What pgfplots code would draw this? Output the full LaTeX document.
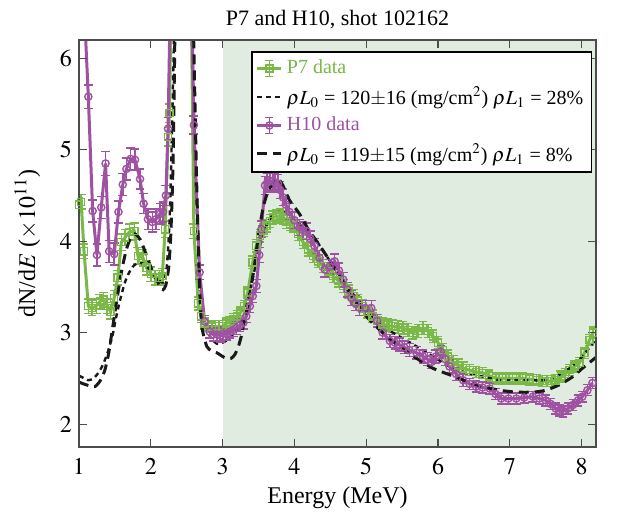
\documentclass[border=0pt]{standalone}
\usepackage{mathptmx}
\usepackage[no-math]{fontspec}
\setmainfont{Liberation Serif}
\usepackage{pgfplots}
\pgfplotsset{compat=1.18}
\usepackage{pgfplotstable}
\definecolor{pgreen}{RGB}{122,184,72}
\definecolor{hpurple}{RGB}{160,82,162}
\definecolor{shadec}{RGB}{225,236,225}

\pgfplotstableread{
x y e
1.00 4.40 0.08
1.03 4.43 0.08
1.07 3.89 0.08
1.13 3.29 0.08
1.18 3.27 0.08
1.24 3.29 0.08
1.29 3.34 0.08
1.34 3.36 0.08
1.40 3.29 0.08
1.44 3.23 0.08
1.49 3.38 0.08
1.54 3.60 0.08
1.59 3.99 0.09
1.64 4.04 0.09
1.70 4.10 0.09
1.77 4.11 0.09
1.82 3.84 0.09
1.89 3.82 0.09
1.94 3.71 0.08
2.00 3.64 0.08
2.06 3.60 0.08
2.12 3.60 0.08
2.16 3.62 0.08
2.20 4.13 0.09
2.24 5.14 0.10
2.26 5.40 0.10
2.30 7.50 0.10
2.55 7.50 0.10
2.60 4.11 0.08
2.66 3.32 0.07
2.70 3.18 0.07
2.75 3.10 0.06
2.80 3.07 0.06
2.85 3.06 0.06
2.90 3.07 0.06
2.95 3.07 0.06
3.00 3.07 0.06
3.05 3.10 0.06
3.10 3.12 0.06
3.15 3.15 0.06
3.20 3.18 0.06
3.25 3.22 0.06
3.30 3.29 0.06
3.35 3.44 0.06
3.42 3.77 0.07
3.47 3.95 0.07
3.52 4.06 0.07
3.57 4.12 0.07
3.61 4.17 0.07
3.66 4.22 0.07
3.70 4.26 0.07
3.75 4.27 0.07
3.80 4.28 0.07
3.85 4.26 0.07
3.89 4.21 0.07
3.94 4.19 0.07
3.98 4.17 0.07
4.05 4.08 0.07
4.12 3.99 0.07
4.19 3.91 0.07
4.26 3.84 0.07
4.33 3.78 0.07
4.40 3.73 0.07
4.47 3.67 0.07
4.54 3.62 0.07
4.61 3.57 0.07
4.68 3.51 0.07
4.75 3.45 0.07
4.82 3.40 0.07
4.88 3.35 0.07
4.95 3.29 0.07
5.02 3.23 0.07
5.09 3.18 0.07
5.16 3.13 0.07
5.23 3.09 0.07
5.30 3.08 0.07
5.37 3.07 0.07
5.44 3.06 0.07
5.51 3.05 0.07
5.58 3.03 0.07
5.65 3.00 0.07
5.72 3.02 0.07
5.79 3.05 0.07
5.86 3.02 0.07
5.93 2.96 0.07
6.00 2.89 0.07
6.07 2.81 0.07
6.14 2.74 0.07
6.21 2.68 0.07
6.28 2.64 0.07
6.35 2.61 0.07
6.44 2.59 0.06
6.53 2.57 0.06
6.62 2.56 0.06
6.71 2.53 0.06
6.81 2.50 0.06
6.90 2.50 0.06
6.99 2.50 0.06
7.09 2.50 0.06
7.18 2.50 0.06
7.27 2.49 0.06
7.37 2.48 0.06
7.45 2.47 0.06
7.52 2.47 0.06
7.58 2.47 0.06
7.64 2.48 0.06
7.71 2.52 0.06
7.77 2.55 0.06
7.83 2.59 0.06
7.90 2.63 0.06
7.97 2.67 0.06
8.04 2.78 0.06
8.11 2.92 0.06
8.16 3.00 0.06
}\ptseven

\pgfplotstableread{
x y e
1.02 7.50 0.12
1.07 6.60 0.12
1.13 5.58 0.13
1.19 4.33 0.12
1.25 3.85 0.12
1.31 4.37 0.12
1.37 4.85 0.13
1.42 3.89 0.12
1.49 3.86 0.12
1.55 4.32 0.12
1.61 4.62 0.12
1.66 4.79 0.12
1.72 4.90 0.12
1.78 4.89 0.12
1.85 4.68 0.11
1.90 4.41 0.11
1.96 4.24 0.11
2.02 4.21 0.11
2.07 4.24 0.11
2.13 4.30 0.11
2.17 4.32 0.11
2.21 4.50 0.11
2.24 5.23 0.12
2.29 7.50 0.12
2.55 7.50 0.12
2.60 5.27 0.10
2.68 3.66 0.08
2.75 3.12 0.07
2.82 3.01 0.07
2.87 2.98 0.07
2.92 2.98 0.07
2.97 2.97 0.07
3.01 2.99 0.07
3.06 2.99 0.07
3.10 3.01 0.07
3.15 3.03 0.07
3.19 3.05 0.07
3.24 3.08 0.07
3.29 3.11 0.07
3.33 3.18 0.07
3.38 3.29 0.07
3.42 3.40 0.07
3.47 3.51 0.07
3.51 3.85 0.08
3.54 4.13 0.09
3.59 4.61 0.10
3.62 4.64 0.10
3.66 4.66 0.10
3.70 4.66 0.10
3.73 4.64 0.10
3.77 4.63 0.10
3.80 4.56 0.09
3.84 4.48 0.09
3.88 4.40 0.09
3.93 4.32 0.09
4.00 4.23 0.09
4.07 4.15 0.09
4.12 4.12 0.09
4.17 4.11 0.09
4.22 4.03 0.08
4.28 3.95 0.08
4.35 3.82 0.08
4.42 3.69 0.08
4.49 3.72 0.08
4.56 3.78 0.08
4.62 3.68 0.08
4.68 3.58 0.08
4.74 3.47 0.08
4.79 3.38 0.08
4.85 3.32 0.08
4.91 3.27 0.08
4.99 3.27 0.08
5.07 3.27 0.08
5.15 3.13 0.07
5.23 3.00 0.07
5.33 2.91 0.07
5.40 2.89 0.07
5.46 2.87 0.07
5.53 2.84 0.07
5.60 2.81 0.07
5.70 2.78 0.07
5.79 2.74 0.07
5.85 2.71 0.07
5.91 2.68 0.07
5.97 2.74 0.07
6.04 2.79 0.07
6.10 2.71 0.07
6.16 2.63 0.07
6.25 2.55 0.07
6.35 2.48 0.07
6.44 2.44 0.06
6.53 2.41 0.06
6.62 2.40 0.06
6.72 2.39 0.06
6.80 2.33 0.06
6.88 2.28 0.06
6.98 2.28 0.06
7.09 2.28 0.06
7.20 2.29 0.06
7.32 2.30 0.06
7.41 2.28 0.06
7.50 2.26 0.06
7.57 2.22 0.06
7.64 2.17 0.06
7.69 2.15 0.06
7.74 2.14 0.06
7.81 2.17 0.06
7.88 2.21 0.06
7.95 2.26 0.06
8.01 2.30 0.06
8.08 2.37 0.06
8.15 2.45 0.06
}\hten

\pgfplotstableread{
x y
1.00 2.53
1.05 2.51
1.13 2.48
1.20 2.50
1.27 2.56
1.34 2.66
1.41 2.81
1.47 2.98
1.52 3.18
1.58 3.38
1.64 3.55
1.70 3.66
1.76 3.73
1.85 3.77
1.96 3.71
2.08 3.60
2.17 3.55
2.22 3.70
2.26 4.20
2.29 5.05
2.33 6.50
2.36 8.00
2.54 8.00
2.57 6.50
2.62 4.80
2.68 3.60
2.75 3.12
2.83 2.95
2.92 2.88
3.00 2.89
3.10 2.94
3.20 3.03
3.30 3.20
3.38 3.45
3.45 3.70
3.52 3.95
3.60 4.15
3.68 4.27
3.78 4.32
3.88 4.31
3.98 4.25
4.07 4.19
4.20 4.10
4.31 4.00
4.54 3.73
4.77 3.47
5.00 3.25
5.23 3.07
5.46 2.96
5.70 2.85
5.93 2.74
6.16 2.63
6.39 2.56
6.62 2.52
6.86 2.48
7.09 2.48
7.32 2.48
7.46 2.48
7.64 2.52
7.83 2.61
8.01 2.74
8.20 2.93
}\fitA

\pgfplotstableread{
x y
1.00 2.46
1.03 2.45
1.10 2.43
1.22 2.41
1.30 2.48
1.36 2.59
1.41 2.76
1.45 2.96
1.50 3.22
1.55 3.47
1.60 3.70
1.66 3.91
1.71 4.02
1.76 4.08
1.80 4.07
1.85 4.02
1.90 3.93
1.96 3.80
2.02 3.68
2.08 3.58
2.13 3.50
2.17 3.47
2.21 3.52
2.25 3.72
2.28 4.10
2.31 4.87
2.34 6.50
2.37 8.00
2.56 8.00
2.59 6.50
2.64 4.60
2.68 3.50
2.71 3.07
2.78 2.85
2.85 2.80
2.92 2.78
3.00 2.74
3.05 2.72
3.12 2.72
3.17 2.76
3.22 2.85
3.26 2.96
3.30 3.12
3.35 3.29
3.40 3.52
3.45 3.77
3.50 4.07
3.56 4.35
3.62 4.52
3.68 4.61
3.75 4.68
3.78 4.68
3.84 4.61
3.93 4.45
4.07 4.30
4.20 4.12
4.31 4.00
4.54 3.73
4.77 3.44
5.00 3.18
5.23 3.00
5.46 2.85
5.70 2.72
5.93 2.61
6.16 2.54
6.39 2.47
6.62 2.41
6.86 2.37
7.09 2.35
7.32 2.35
7.50 2.37
7.69 2.43
7.88 2.52
8.01 2.61
8.20 2.73
}\fitB

\pgfplotsset{
  datalegend/.style={legend image code/.code={
    \draw[mark=none,##1] (0pt,0pt) -- (12pt,0pt);
    \draw[mark=none,##1,line width=0.6pt] (6pt,-4pt) -- (6pt,4pt) (4pt,-4pt) -- (8pt,-4pt) (4pt,4pt) -- (8pt,4pt);
    \draw[##1,line width=0.6pt] plot coordinates {(6pt,0pt)};
  }},
  linelegend/.style={legend image code/.code={
    \draw[##1] (0pt,0pt) -- (12pt,0pt);
  }},
}

\begin{document}
\begin{tikzpicture}
\begin{axis}[
  scale only axis,
  width=258.5pt, height=203.5pt,
  xmin=1, xmax=8.2, ymin=1.75, ymax=6.2,
  xtick={1,2,...,8}, ytick={2,3,4,5,6},
  tick align=inside, tick pos=both,
  major tick length=4pt,
  axis on top,
  axis line style={line width=0.6pt, black!70},
  every tick/.style={line width=0.6pt, black!70},
  ticklabel style={font=\fontsize{12}{14}\selectfont},
  xticklabel style={yshift=-2pt},
  title={P7 and H10, shot 102162},
  title style={font=\fontsize{11}{13}\selectfont, yshift=-4pt},
  xlabel={Energy (MeV)},
  ylabel={dN/d$E$ ($\times 10^{11}$)},
  label style={font=\fontsize{12}{14}\selectfont},
  xlabel style={yshift=1pt},
  ylabel style={yshift=3pt},
  legend cell align=left,
  legend style={at={(rel axis cs:0.992,0.972)}, anchor=north east,
    draw=black, line width=0.6pt, fill=white,
    font=\fontsize{10}{12}\selectfont, inner sep=2pt, row sep=1pt},
  clip=true,
]
\fill[shadec] (axis cs:3,1.75) rectangle (axis cs:8.2,6.2);
\coordinate (ll) at (rel axis cs:0,0);
\coordinate (ur) at (rel axis cs:1,1);

\addplot+[pgreen, line width=1.5pt, mark=square, mark size=1.8pt,
  mark options={solid, line width=0.7pt, fill=none}, datalegend,
  error bars/.cd, y dir=both, y explicit,
  error bar style={line width=0.7pt},
  error mark options={rotate=90, mark size=2.2pt, line width=0.7pt}]
  table[x=x, y=y, y error=e] {\ptseven};
\addlegendentry{\textcolor{pgreen}{P7 data}}

\addplot[black!90, line width=1.2pt, dash pattern=on 2.5pt off 2pt, smooth, tension=0.4, linelegend]
  table[x=x, y=y] {\fitA};
\addlegendentry{$\rho L_0$ = 120$\pm$16 (mg/cm$^2$) $\rho L_1$ = 28\%}

\addplot+[hpurple, line width=1.5pt, mark=o, mark size=1.8pt,
  mark options={solid, line width=0.7pt, fill=none}, datalegend,
  error bars/.cd, y dir=both, y explicit,
  error bar style={line width=0.7pt},
  error mark options={rotate=90, mark size=2.2pt, line width=0.7pt}]
  table[x=x, y=y, y error=e] {\hten};
\addlegendentry{\textcolor{hpurple}{H10 data}}

\addplot[black!90, line width=1.5pt, dash pattern=on 5pt off 3pt, smooth, tension=0.4, linelegend]
  table[x=x, y=y] {\fitB};
\addlegendentry{$\rho L_0$ = 119$\pm$15 (mg/cm$^2$) $\rho L_1$ = 8\%}
\end{axis}
\pgfresetboundingbox
\path[use as bounding box] ([shift={(-39.5pt,-32.5pt)}]ll) rectangle ([shift={(15pt,20pt)}]ur);
\end{tikzpicture}
\end{document}
